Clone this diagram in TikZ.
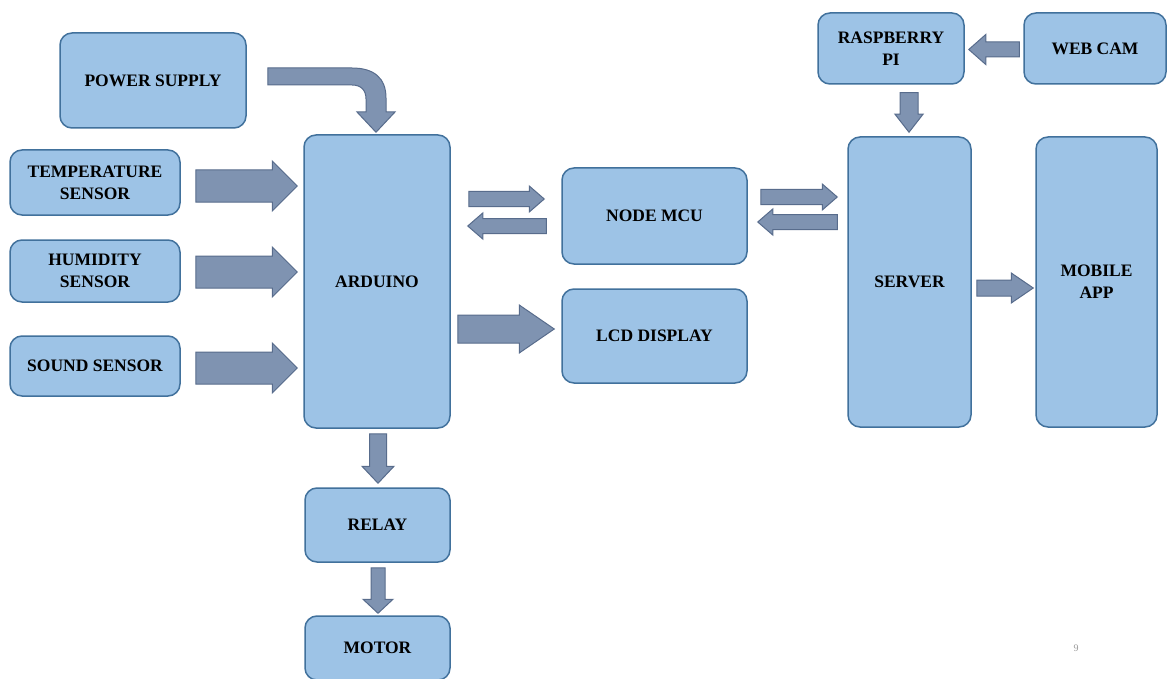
\documentclass[tikz,border=0pt]{standalone}
\usepackage{fontspec}
\setmainfont{Liberation Serif}
\usetikzlibrary{calc}
\definecolor{boxfill}{RGB}{157,195,230}
\definecolor{boxline}{RGB}{65,113,156}
\definecolor{arrfill}{RGB}{127,147,177}
\definecolor{arrline}{RGB}{88,108,140}
\tikzset{
  box/.style={draw=boxline, fill=boxfill, line width=1.5pt, rounded corners=12pt,
    align=center, inner sep=0pt, font=\fontsize{17.5}{22}\selectfont\bfseries},
  blockarrow/.style={draw=arrline, fill=arrfill, line width=1pt, line join=miter},
}
% #1 start, #2 end (tip), #3 shaft half width, #4 head half width, #5 head length
\newcommand\barrow[5]{%
  \coordinate (hb) at ($(#2)!#5!(#1)$);
  \draw[blockarrow] ($(#1)!#3!90:(#2)$) -- ($(hb)!#3!-90:(#1)$) -- ($(hb)!#4!-90:(#1)$)
    -- (#2) -- ($(hb)!#4!90:(#1)$) -- ($(hb)!#3!90:(#1)$) -- ($(#1)!#3!-90:(#2)$) -- cycle;
}
\begin{document}
\begin{tikzpicture}[x=1pt,y=-1pt]
\useasboundingbox (0,0) rectangle (1169,679);
\clip (0,0) rectangle (1169,679);
\fill[white] (0,0) rectangle (1169,679);

% boxes
\node[box, minimum width=186pt, minimum height=95pt] (ps) at (153,80.5) {POWER SUPPLY};
\node[box, minimum width=170pt, minimum height=65pt] (temp) at (95,182.5) {TEMPERATURE\\SENSOR};
\node[box, minimum width=170pt, minimum height=62pt] (hum) at (95,271) {HUMIDITY\\SENSOR};
\node[box, minimum width=170pt, minimum height=60pt] (sound) at (95,366) {SOUND SENSOR};
\node[box, minimum width=146pt, minimum height=293pt] (ard) at (377,281.5) {ARDUINO};
\node[box, minimum width=185pt, minimum height=96pt] (nmcu) at (654.5,216) {NODE MCU};
\node[box, minimum width=185pt, minimum height=94pt] (lcd) at (654.5,336) {LCD DISPLAY};
\node[box, minimum width=145pt, minimum height=74pt] (relay) at (377.5,525) {RELAY};
\node[box, minimum width=145pt, minimum height=64pt] (motor) at (377.5,648) {MOTOR};
\node[box, minimum width=146pt, minimum height=71pt] (rpi) at (891,48.5) {RASPBERRY\\PI};
\node[box, minimum width=142pt, minimum height=71pt] (cam) at (1095,48.5) {WEB CAM};
\node[box, minimum width=123pt, minimum height=290pt] (server) at (909.5,282) {SERVER};
\node[box, minimum width=121pt, minimum height=290pt] (mobile) at (1096.5,282) {MOBILE\\APP};

% curved arrow from power supply
\coordinate (psa) at ($(ps.east)+(21,-4)$);
\coordinate (pstip) at ($(ard.north)+(-1,-2)$);
\draw[blockarrow] ($(psa)+(0,-8.5)$) -- (352,68) .. controls (374,68) and (386,78) .. (386,98)
  -- (386,112) -- (395,112) -- (pstip) -- (357,112) -- (366,112) -- (366,99)
  .. controls (366,90) and (361,85) .. (352,85) -- ($(psa)+(0,8.5)$) -- cycle;

% sensors to arduino
\coordinate (ts) at ($(temp.east)+(15,3.5)$);
\coordinate (te) at ($(ard.west|-ts)+(-6,0)$);
\barrow{ts}{te}{16pt}{25pt}{25pt}
\coordinate (hs) at ($(hum.east)+(15,1)$);
\coordinate (he) at ($(ard.west|-hs)+(-6,0)$);
\barrow{hs}{he}{16pt}{25pt}{25pt}
\coordinate (ss) at ($(sound.east)+(15,2)$);
\coordinate (se) at ($(ard.west|-ss)+(-6,0)$);
\barrow{ss}{se}{16pt}{25pt}{25pt}

% arduino <-> node mcu
\coordinate (an1) at ($(ard.east|-0,199)+(18,0)$);
\coordinate (an2) at ($(nmcu.west|-an1)+(-17,0)$);
\barrow{an1}{an2}{7.5pt}{13pt}{15pt}
\coordinate (na1) at ($(nmcu.west|-0,226)+(-15,0)$);
\coordinate (na2) at ($(ard.east|-na1)+(17,0)$);
\barrow{na1}{na2}{7.5pt}{13pt}{15pt}

% arduino -> lcd
\coordinate (al1) at ($(ard.east|-lcd.west)+(7,-7)$);
\coordinate (al2) at ($(lcd.west|-al1)+(-7,0)$);
\barrow{al1}{al2}{14pt}{24pt}{35pt}

% node mcu <-> server
\coordinate (ns1) at ($(nmcu.east|-0,197)+(13,0)$);
\coordinate (ns2) at ($(server.west|-ns1)+(-10,0)$);
\barrow{ns1}{ns2}{7.5pt}{13pt}{15pt}
\coordinate (sn1) at ($(server.west|-0,222)+(-10,0)$);
\coordinate (sn2) at ($(nmcu.east|-sn1)+(10,0)$);
\barrow{sn1}{sn2}{7.5pt}{13pt}{15pt}

% server -> mobile
\coordinate (sm1) at ($(server.east)+(5,6)$);
\coordinate (sm2) at ($(mobile.west|-sm1)+(-2,0)$);
\barrow{sm1}{sm2}{8pt}{15pt}{22pt}

% web cam -> raspberry
\coordinate (cr1) at ($(cam.west)+(-4,1)$);
\coordinate (cr2) at ($(rpi.east|-cr1)+(4,0)$);
\barrow{cr1}{cr2}{7.5pt}{15pt}{17pt}

% raspberry -> server
\coordinate (rs1) at ($(rpi.south)+(18,8)$);
\coordinate (rs2) at ($(server.north-|rs1)+(0,-4)$);
\barrow{rs1}{rs2}{9pt}{14pt}{18pt}

% arduino -> relay -> motor
\coordinate (ar1) at ($(ard.south)+(1,5)$);
\coordinate (ar2) at ($(relay.north-|ar1)+(0,-4)$);
\barrow{ar1}{ar2}{8.5pt}{16pt}{17pt}
\coordinate (rm1) at ($(relay.south)+(0.5,5)$);
\coordinate (rm2) at ($(motor.north-|rm1)+(0,-2)$);
\barrow{rm1}{rm2}{7pt}{15pt}{14pt}

% page number
\node[font=\fontsize{10}{10}\selectfont, text=gray!80] (pg) at (1076,648) {9};
\end{tikzpicture}
\end{document}
